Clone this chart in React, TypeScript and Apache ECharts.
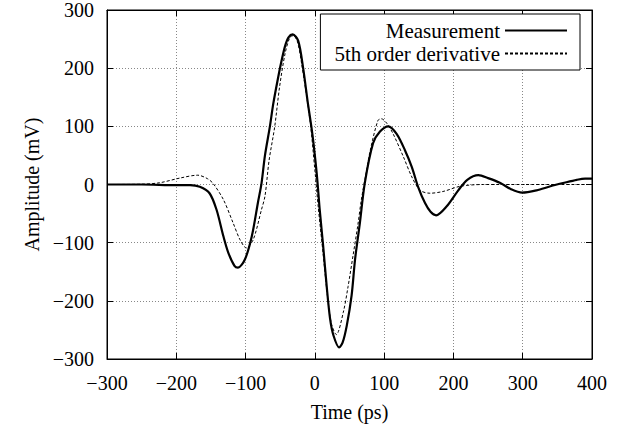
import React, { useEffect, useRef } from "react";
import * as echarts from "echarts";

const xTicks = [-300, -200, -100, 0, 100, 200, 300, 400];
const yTicks = [-300, -200, -100, 0, 100, 200, 300];

const measTime = [-300, -250, -200, -180, -166, -152, -142, -132, -125, -116, -111, -101, -91, -82, -77, -72, -65, -60, -53, -48, -43, -38, -32, -24, -17, -10, -5, -2, 3, 7, 12, 17, 22, 27, 35, 40, 46, 53, 58, 65, 72, 84, 94, 106, 118, 130, 140, 149, 159, 167, 175, 190, 207, 220, 236, 250, 267, 283, 299, 320, 340, 360, 378, 390, 400];
const measAmp = [0, 0, -1, -1, -4, -15, -43, -89, -117, -140, -143, -129, -89, -30, 2, 50, 99, 139, 184, 213, 238, 253, 258, 247, 201, 139, 99, 71, 15, -43, -106, -174, -231, -260, -280, -272, -243, -191, -129, -66, 2, 71, 91, 100, 87, 59, 30, -4, -32, -47, -53, -38, -10, 8, 16, 11, 3, -8, -14, -10, -3, 3, 8, 10, 10];

const derivTime = [-300, -250, -224, -195, -169, -155, -147, -132, -118, -108, -99, -89, -77, -72, -66, -58, -51, -43, -36, -31, -25, -19, -7, 0, 5, 12, 18, 24, 31, 41, 48, 55, 62, 67, 74, 80, 91, 96, 104, 113, 128, 140, 152, 166, 185, 210, 243, 300, 400];
const derivAmp = [0, 0.5, 3, 11, 16, 10, 2, -26, -66, -95, -109, -95, -43, -20, 42, 99, 167, 225, 253, 256, 245, 207, 110, 25, -40, -120, -190, -240, -258, -220, -175, -123, -70, -27, 20, 59, 110, 113, 105, 87, 47, 13, -10, -15, -12, -3, 0, 0, 0];

const FONT = "Liberation Serif";

function pairs(xs: number[], ys: number[]) {
  return xs.map((x, i) => [x, ys[i]]);
}

const fmt = (v: number) => String(v).replace("-", "\u2212");

export default function App() {
  const ref = useRef<HTMLDivElement>(null);
  useEffect(() => {
    if (!ref.current) return;
    const chart = echarts.init(ref.current, null, { renderer: "svg" });
    const tickStyle = { inside: true, length: 6, lineStyle: { color: "#000", width: 1 } };
    const splitStyle = { show: true, lineStyle: { color: "#888", width: 1, type: [1, 2] as any } };
    chart.setOption({
      animation: false,
      backgroundColor: "#fff",
      textStyle: { fontFamily: FONT },
      grid: {
        left: 107,
        right: 43,
        top: 9,
        bottom: 71,
        show: true,
        borderColor: "#000",
        borderWidth: 1,
      },
      legend: {
        orient: "vertical",
        align: "right",
        right: 55,
        top: 14,
        itemWidth: 62,
        itemHeight: 14,
        itemGap: 2,
        padding: [6, 12, 6, 14],
        backgroundColor: "#fff",
        borderColor: "#000",
        borderWidth: 1,
        borderRadius: 0,
        itemStyle: { opacity: 0, color: "transparent", borderWidth: 0 },
        textStyle: { fontFamily: FONT, fontSize: 21, color: "#000" },
        data: ["Measurement", "5th order derivative"],
      },
      xAxis: [
        {
          type: "value",
          min: -300,
          max: 400,
          interval: 100,
          position: "bottom",
          name: "Time (ps)",
          nameLocation: "middle",
          nameGap: 43,
          nameTextStyle: { fontFamily: FONT, fontSize: 20, color: "#000" },
          axisLine: { show: true, onZero: false, lineStyle: { color: "#000" } },
          axisTick: tickStyle,
          axisLabel: {
            fontFamily: FONT,
            fontSize: 20,
            color: "#000",
            margin: 14,
            formatter: (v: number) => (xTicks.includes(v) ? fmt(v) : ""),
          },
          splitLine: splitStyle,
        },
        {
          type: "value",
          min: -300,
          max: 400,
          interval: 100,
          position: "top",
          axisLine: { show: true, onZero: false, lineStyle: { color: "#000" } },
          axisTick: tickStyle,
          axisLabel: { show: false },
          splitLine: { show: false },
        },
      ],
      yAxis: [
        {
          type: "value",
          min: -300,
          max: 300,
          interval: 100,
          position: "left",
          name: "Amplitude (mV)",
          nameLocation: "middle",
          nameGap: 63,
          nameTextStyle: { fontFamily: FONT, fontSize: 20, color: "#000" },
          axisLine: { show: true, onZero: false, lineStyle: { color: "#000" } },
          axisTick: tickStyle,
          axisLabel: {
            fontFamily: FONT,
            fontSize: 20,
            color: "#000",
            margin: 13,
            formatter: (v: number) => (yTicks.includes(v) ? fmt(v) : ""),
          },
          splitLine: splitStyle,
        },
        {
          type: "value",
          min: -300,
          max: 300,
          interval: 100,
          position: "right",
          axisLine: { show: true, onZero: false, lineStyle: { color: "#000" } },
          axisTick: tickStyle,
          axisLabel: { show: false },
          splitLine: { show: false },
        },
      ],
      series: [
        {
          name: "Measurement",
          type: "line",
          xAxisIndex: 0,
          yAxisIndex: 0,
          data: pairs(measTime, measAmp),
          smooth: 0.3,
          showSymbol: false,
          symbol: "none",
          lineStyle: { color: "#000", width: 2.2, type: "solid" },
          itemStyle: { color: "#000" },
          z: 3,
        },
        {
          name: "5th order derivative",
          type: "line",
          xAxisIndex: 0,
          yAxisIndex: 0,
          data: pairs(derivTime, derivAmp),
          smooth: 0.3,
          showSymbol: false,
          symbol: "none",
          lineStyle: { color: "#000", width: 1, type: [3, 2] },
          itemStyle: { color: "#000" },
          z: 2,
        },
      ],
    });
    return () => chart.dispose();
  }, []);
  return (
    <div
      ref={ref}
      style={{ position: "absolute", left: 0, top: 0, width: 635, height: 430 }}
    />
  );
}
